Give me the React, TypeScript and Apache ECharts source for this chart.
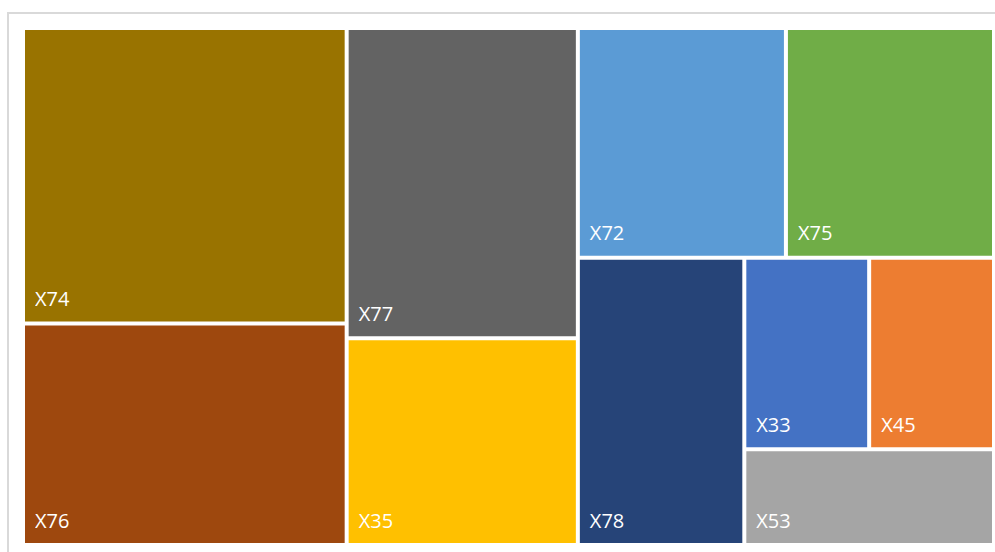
import React, { useEffect, useRef } from "react";
import * as echarts from "echarts";

const categories = ["X74", "X76", "X77", "X35", "X72", "X75", "X78", "X33", "X45", "X53"];
const values = [4, 3, 3, 2, 2, 2, 2, 1, 1, 1];
const colors = [
  "#997300",
  "#9E480E",
  "#636363",
  "#FFC000",
  "#5B9BD5",
  "#70AD47",
  "#264478",
  "#4472C4",
  "#ED7D31",
  "#A5A5A5",
];

export default function App() {
  const ref = useRef<HTMLDivElement>(null);
  useEffect(() => {
    document.body.style.margin = "0";
    if (!ref.current) return;
    const chart = echarts.init(ref.current, null, { renderer: "svg" });
    const data = categories.map((name, i) => ({
      name,
      value: values[i],
      itemStyle: { color: colors[i] },
    }));
    chart.setOption({
      animation: false,
      graphic: [
        {
          type: "rect",
          shape: { x: 8, y: 13, width: 1200, height: 1200 },
          style: { fill: "none", stroke: "#d9d9d9", lineWidth: 2 },
          silent: true,
        },
      ],
      series: [
        {
          type: "treemap",
          left: 25,
          top: 30,
          width: 967,
          height: 513,
          sort: false,
          squareRatio: 1,
          roam: false,
          nodeClick: false,
          breadcrumb: { show: false },
          label: {
            show: true,
            position: "insideBottomLeft",
            distance: 4,
            padding: [0, 0, 9, 6],
            formatter: "{b}",
            color: "#ffffff",
            fontFamily: "Open Sans",
            fontSize: 20,
          },
          upperLabel: { show: false },
          itemStyle: { borderWidth: 0, gapWidth: 4, borderColor: "#ffffff" },
          levels: [
            { itemStyle: { borderWidth: 0, gapWidth: 4, borderColor: "#ffffff" } },
            { itemStyle: { borderWidth: 0, gapWidth: 0 } },
          ],
          data,
        },
      ],
    });
    return () => chart.dispose();
  }, []);
  return <div ref={ref} style={{ width: 995, height: 552 }} />;
}
